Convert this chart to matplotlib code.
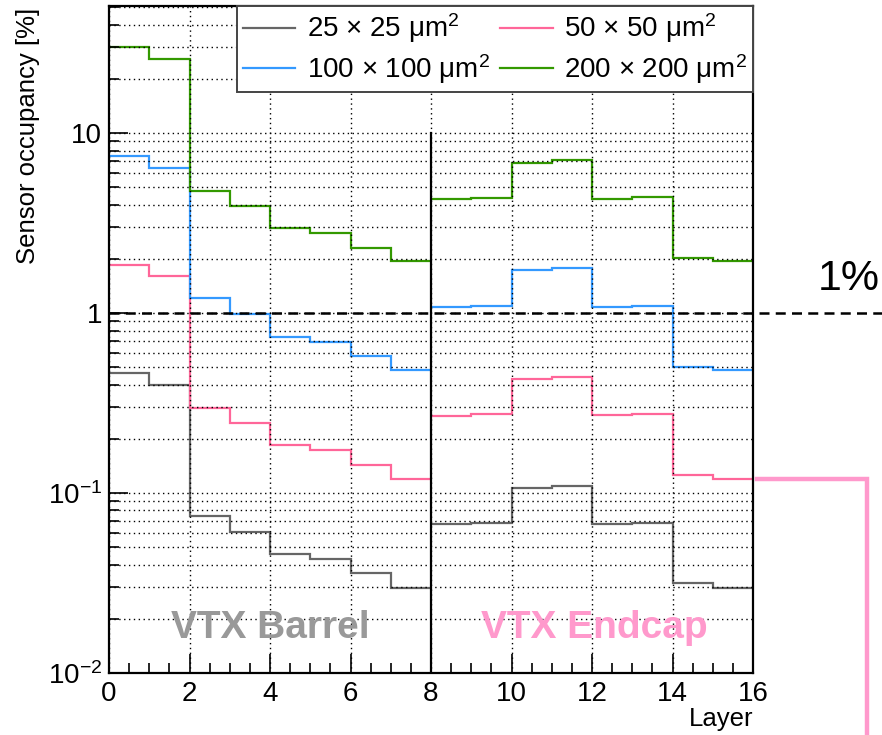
import numpy as np
import matplotlib
matplotlib.use("Agg")
import matplotlib.pyplot as plt
from matplotlib.ticker import FixedLocator, FixedFormatter, MultipleLocator, LogLocator

plt.rcParams['font.family'] = ['Liberation Sans', 'DejaVu Sans']
plt.rcParams['mathtext.fontset'] = 'custom'
plt.rcParams['mathtext.rm'] = 'Liberation Sans'
plt.rcParams['mathtext.it'] = 'Liberation Sans:italic'
plt.rcParams['mathtext.bf'] = 'Liberation Sans:bold'

# occupancy per layer [%], barrel layers 0-7, endcap layers 8-15
occ_25 = [0.464, 0.398, 0.0745, 0.0610, 0.0456, 0.0428, 0.0359, 0.0297,
          0.0670, 0.0678, 0.107, 0.110, 0.0673, 0.0681, 0.0318, 0.0297]
occ_50 = [1.85, 1.60, 0.298, 0.246, 0.184, 0.173, 0.144, 0.120,
          0.268, 0.274, 0.428, 0.443, 0.271, 0.276, 0.126, 0.120]
occ_100 = [7.45, 6.42, 1.21, 0.99, 0.739, 0.693, 0.579, 0.484,
           1.08, 1.10, 1.73, 1.77, 1.08, 1.10, 0.503, 0.483]
occ_200 = [30.0, 25.7, 4.8, 3.95, 2.96, 2.77, 2.31, 1.94,
           4.30, 4.39, 6.87, 7.08, 4.32, 4.41, 2.03, 1.94]

labels = ["25 × 25 μm$^{2}$", "50 × 50 μm$^{2}$",
          "100 × 100 μm$^{2}$", "200 × 200 μm$^{2}$"]
colors = ['#666666', '#ff6699', '#3399ff', '#339900']
series = [occ_25, occ_50, occ_100, occ_200]

edges = np.arange(0, 17)
n_barrel = 8

fig = plt.figure(figsize=(8.82, 7.35), dpi=100)
ax = fig.add_axes([109/882, 1-673/735, (753-109)/882, (673-6)/735])

ax.set_yscale('log')
ax.set_xlim(0, 16)
ax.set_ylim(0.01, 50.9)

# grid (ROOT style dotted)
ax.xaxis.set_major_locator(MultipleLocator(2))
ax.xaxis.set_minor_locator(MultipleLocator(0.5))
ax.yaxis.set_major_locator(FixedLocator([0.01, 0.1, 1, 10]))
ax.yaxis.set_major_formatter(FixedFormatter([r'$10^{-2}$', r'$10^{-1}$', '1', '10']))
ax.yaxis.set_minor_locator(LogLocator(base=10, subs=np.arange(2, 10)))
ax.yaxis.set_minor_formatter(FixedFormatter([]))
ax.grid(True, which='major', axis='x', color='black', ls=(0, (1, 2.5)), lw=1)
ax.grid(True, which='both', axis='y', color='black', ls=(0, (1, 2.5)), lw=1)

handles = []
for vals, c, lab in zip(series, colors, labels):
    h = ax.stairs(vals[:n_barrel], edges[:n_barrel+1], color=c, lw=1.6, baseline=None, label=lab)
    ax.stairs(vals[n_barrel:], edges[n_barrel:], color=c, lw=1.6, baseline=None)
    handles.append(h)

# barrel / endcap separator
ax.plot([8, 8], [0.01, 10], color='black', lw=1.6)

# 1% line out to the figure edge
ax.plot([0, 1.2], [1, 1], color='black', lw=1.8, ls=(0, (4, 2.5)),
        transform=ax.get_yaxis_transform(), clip_on=False)
fig.text(880/882, 1-279/735, '1%', fontsize=31, ha='right', va='center')

# pink bracket pointing at endcap
ax.plot([(757-109)/644, (867-109)/644, (867-109)/644], [occ_50[-1], occ_50[-1], 0.004],
        color='#ff99cc', lw=3.2, solid_joinstyle='miter',
        transform=ax.get_yaxis_transform(), clip_on=False)

ax.text(4, 0.0178, 'VTX Barrel', color='#999999', fontsize=28, fontweight='bold', ha='center', va='center')
ax.text(12.05, 0.0178, 'VTX Endcap', color='#ff99cc', fontsize=28, fontweight='bold', ha='center', va='center')

for s in ax.spines.values():
    s.set_linewidth(1.6)
ax.tick_params(which='both', direction='in', top=False, right=False, width=1.2, labelsize=20)
ax.tick_params(which='major', length=14)
ax.tick_params(which='minor', length=7)
ax.tick_params(axis='x', which='major', pad=6)
ax.tick_params(axis='y', which='major', pad=5)

fig.text(28/882, 1-8/735, 'Sensor occupancy [%]', rotation=90, ha='center', va='top', fontsize=18.5)
fig.text(753/882, 1-719/735, 'Layer', ha='right', va='center', fontsize=18.5)

# ROOT legend fills row by row: 25, 50 / 100, 200
order = [0, 2, 1, 3]
leg = ax.legend([handles[i] for i in order], [labels[i] for i in order], ncol=2,
                loc='upper left', bbox_to_anchor=(0.199, 0.0, 0.801, 1.0),
                mode='expand', fontsize=20, frameon=True, fancybox=False,
                handlelength=1.9, handletextpad=0.4, columnspacing=0.3, borderaxespad=0,
                borderpad=0.2, labelspacing=0.25)
leg.get_frame().set_edgecolor('#444444')
leg.get_frame().set_linewidth(1.4)
leg.get_frame().set_alpha(1)

fig.savefig('out.png', dpi=100)
